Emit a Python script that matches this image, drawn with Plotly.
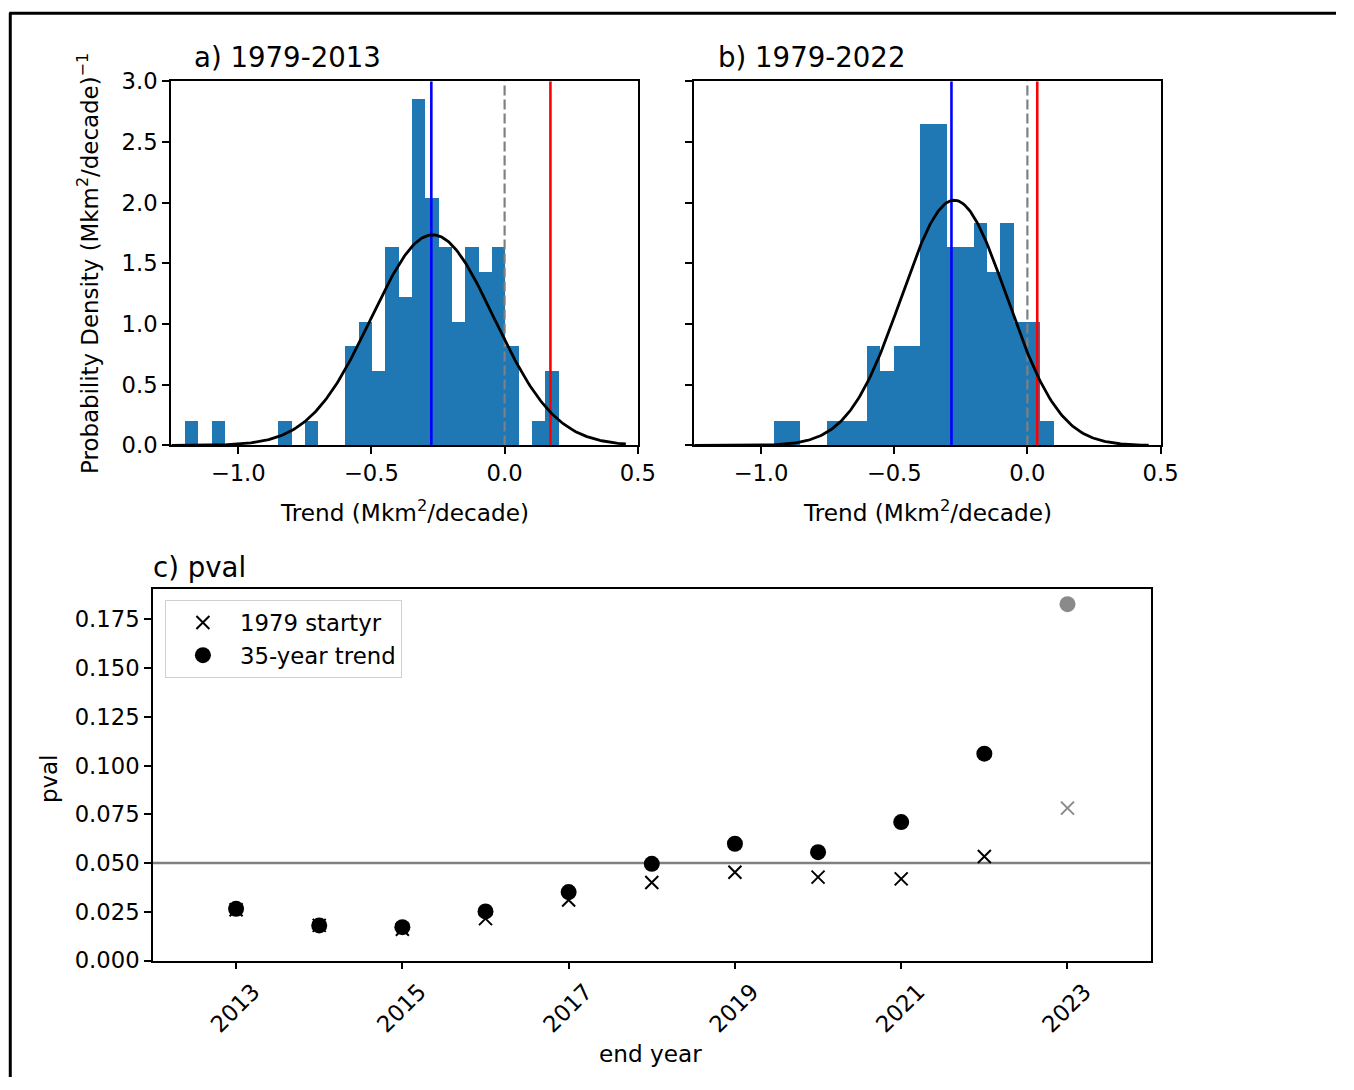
import numpy as np
import plotly.graph_objects as go

W, H = 1354, 1090
FONT = "DejaVu Sans"

# ---------------- data ----------------
# panel a: histogram (counts per bin), bins of equal width starting at a_start
a_start = -1.2
a_width = 0.0501
a_counts = [1, 0, 1, 0, 0, 0, 0, 1, 0, 1, 0, 0, 4, 5, 3, 8, 6, 14, 10, 8, 5, 8, 7, 8, 4, 0, 1, 3]
a_mu, a_sigma = -0.27, 0.23          # fitted normal
a_blue, a_zero, a_red = -0.275, 0.0, 0.172

# panel b
b_start = -0.954
b_width = 0.0501
b_counts = [1, 1, 0, 0, 1, 1, 1, 4, 3, 4, 4, 13, 13, 8, 8, 9, 7, 9, 5, 5, 1]
b_mu, b_sigma = -0.275, 0.1975
b_blue, b_zero, b_red = -0.285, 0.0, 0.037

curve_range = [-1.25, 0.455]

# panel c
years = [2013, 2014, 2015, 2016, 2017, 2018, 2019, 2020, 2021, 2022]
p_1979 = [0.026, 0.018, 0.016, 0.0215, 0.031, 0.040, 0.0453, 0.0428, 0.0419, 0.0534]
p_35yr = [0.0265, 0.018, 0.0171, 0.0252, 0.0351, 0.0496, 0.0599, 0.0556, 0.071, 0.1061]
year_last = [2023]
p_1979_last = [0.0782]
p_35yr_last = [0.1828]
p_threshold = 0.05
c_ticks = [2013, 2015, 2017, 2019, 2021, 2023]
c_ticklabels = ["2013", "2015", "2017", "2019", "2021", "2023"]

# ---------------- layout helpers ----------------
# map target picture pixels to paper fractions (compensates the page-to-picture mapping)
SX, OX = 0.989, -1.3
SY, OY = 0.978, 10.7

def px_x(x):
    return ((x - OX) / SX) / W

def px_y(y):
    return 1 - ((y - OY) / SY) / H

dom_a = [px_x(170), px_x(638)]
dom_b = [px_x(694), px_x(1162)]
dom_ab_y = [px_y(444), px_y(79)]
dom_c_x = [px_x(152), px_x(1152)]
dom_c_y = [px_y(960), px_y(588)]

fig = go.Figure()

def add_hist(xref, yref, start, width, counts, mu, sigma, blue, zero, red):
    counts = np.array(counts, dtype=float)
    n = counts.sum()
    dens = counts / (n * width)
    centers = start + width * (np.arange(len(counts)) + 0.5)
    fig.add_trace(go.Bar(x=centers, y=dens, width=width, marker=dict(color="#1f77b4", line=dict(width=0)),
                         xaxis=xref, yaxis=yref, showlegend=False))
    xs = np.linspace(curve_range[0], curve_range[1], 300)
    ys = np.exp(-0.5 * ((xs - mu) / sigma) ** 2) / (sigma * np.sqrt(2 * np.pi))
    fig.add_trace(go.Scatter(x=[zero, zero], y=[0, 3], mode="lines", line=dict(color="gray", width=2.2, dash="10px,4px"),
                             xaxis=xref, yaxis=yref, showlegend=False))
    fig.add_trace(go.Scatter(x=[blue, blue], y=[0, 3], mode="lines", line=dict(color="blue", width=2.6),
                             xaxis=xref, yaxis=yref, showlegend=False))
    fig.add_trace(go.Scatter(x=[red, red], y=[0, 3], mode="lines", line=dict(color="red", width=2.6),
                             xaxis=xref, yaxis=yref, showlegend=False))
    fig.add_trace(go.Scatter(x=xs, y=ys, mode="lines", line=dict(color="black", width=2.8),
                             xaxis=xref, yaxis=yref, showlegend=False))

add_hist("x", "y", a_start, a_width, a_counts, a_mu, a_sigma, a_blue, a_zero, a_red)
add_hist("x2", "y2", b_start, b_width, b_counts, b_mu, b_sigma, b_blue, b_zero, b_red)

# panel c
fig.add_trace(go.Scatter(x=[2012, 2024], y=[p_threshold, p_threshold], mode="lines",
                         line=dict(color="gray", width=2.6), xaxis="x3", yaxis="y3", showlegend=False))
fig.add_trace(go.Scatter(x=years, y=p_1979, mode="markers", name="1979 startyr", legendgroup="g1",
                         marker=dict(symbol="x-thin", size=13, line=dict(color="black", width=2), color="black"),
                         xaxis="x3", yaxis="y3"))
fig.add_trace(go.Scatter(x=years, y=p_35yr, mode="markers", name="35-year trend", legendgroup="g2",
                         marker=dict(symbol="circle", size=16, color="black"),
                         xaxis="x3", yaxis="y3"))
fig.add_trace(go.Scatter(x=year_last, y=p_1979_last, mode="markers", showlegend=False,
                         marker=dict(symbol="x-thin", size=13, line=dict(color="#8a8a8a", width=2), color="#8a8a8a"),
                         xaxis="x3", yaxis="y3"))
fig.add_trace(go.Scatter(x=year_last, y=p_35yr_last, mode="markers", showlegend=False,
                         marker=dict(symbol="circle", size=16, color="#8a8a8a"),
                         xaxis="x3", yaxis="y3"))

tickfont = dict(family=FONT, size=22.7, color="black")
common = dict(showline=True, linecolor="black", linewidth=1.5, mirror=True, ticks="outside",
              ticklen=7, tickwidth=1.5, tickcolor="black", showgrid=False, zeroline=False,
              tickfont=tickfont)

fig.update_layout(
    autosize=True,
    margin=dict(l=0, r=0, t=0, b=0),
    paper_bgcolor="white", plot_bgcolor="white",
    bargap=0,
    font=dict(family=FONT, size=22.7, color="black"),
    xaxis=dict(domain=dom_a, range=[-1.2525, 0.5], tickvals=[-1.0, -0.5, 0.0, 0.5], tickformat=".1f",
               anchor="y", **common),
    yaxis=dict(domain=dom_ab_y, range=[0, 3.0], tickvals=[0, 0.5, 1.0, 1.5, 2.0, 2.5, 3.0], tickformat=".1f",
               anchor="x", **common),
    xaxis2=dict(domain=dom_b, range=[-1.2525, 0.5], tickvals=[-1.0, -0.5, 0.0, 0.5], tickformat=".1f",
                anchor="y2", **common),
    yaxis2=dict(domain=dom_ab_y, range=[0, 3.0], tickvals=[0, 0.5, 1.0, 1.5, 2.0, 2.5, 3.0],
                showticklabels=False, anchor="x2", **common),
    xaxis3=dict(domain=dom_c_x, range=[2012, 2024], tickvals=c_ticks, ticktext=c_ticklabels,
                tickangle=-45, ticklabelshift=17, ticklabelstandoff=0, anchor="y3", **common),
    yaxis3=dict(domain=dom_c_y, range=[0, 0.1905], tickvals=[0, 0.025, 0.05, 0.075, 0.1, 0.125, 0.15, 0.175],
                tickformat=".3f", anchor="x3", **common),
    legend=dict(x=px_x(164), y=px_y(599), xanchor="left", yanchor="top",
                bgcolor="white", bordercolor="#d0d0d0", borderwidth=1,
                font=dict(family=FONT, size=22.8, color="black"), itemwidth=64,
                traceorder="grouped", tracegroupgap=0),
    showlegend=True,
)

ann = []
def text(x, y, s, size=23, xanchor="center", yanchor="middle", angle=0, xref="paper", yref="paper"):
    ann.append(dict(x=x, y=y, xref=xref, yref=yref, text=s, showarrow=False, xanchor=xanchor, yanchor=yanchor,
                    textangle=angle, font=dict(family=FONT, size=size, color="black")))

text(px_x(191), px_y(55), "a) 1979-2013", size=27.6, xanchor="left")
text(px_x(716), px_y(55), "b) 1979-2022", size=27.6, xanchor="left")
text(px_x(150), px_y(566), "c) pval", size=27.6, xanchor="left")
text(px_x(404), px_y(510), "Trend (Mkm<sup>2</sup>/decade)", size=23.2)
text(px_x(928), px_y(510), "Trend (Mkm<sup>2</sup>/decade)", size=23.2)
text(px_x(87), px_y(262), "Probability Density (Mkm<sup>2</sup>/decade)<sup>\u22121</sup>", size=22.9, angle=-90)
text(px_x(48), px_y(778), "pval", size=22.9, angle=-90)
text(px_x(651), px_y(1053), "end year", size=23.2)

fig.update_layout(annotations=ann)

# figure frame lines (top and left)
fig.add_shape(type="line", xref="paper", yref="paper", x0=px_x(8), x1=1, y0=px_y(11), y1=px_y(11),
              line=dict(color="black", width=3))
fig.add_shape(type="line", xref="paper", yref="paper", x0=px_x(9), x1=px_x(9), y0=px_y(10.5), y1=0,
              line=dict(color="black", width=3))

fig.write_html("out.html",
               default_width="100vw", default_height="100vh",
               config={"displayModeBar": False, "responsive": True},
               post_script="document.documentElement.style.margin='0';document.body.style.margin='0';"
                           "document.body.style.padding='0';document.documentElement.style.overflow='hidden';"
                           "document.body.style.overflow='hidden';"
                           "Plotly.Plots.resize(document.getElementById('{plot_id}'));")
